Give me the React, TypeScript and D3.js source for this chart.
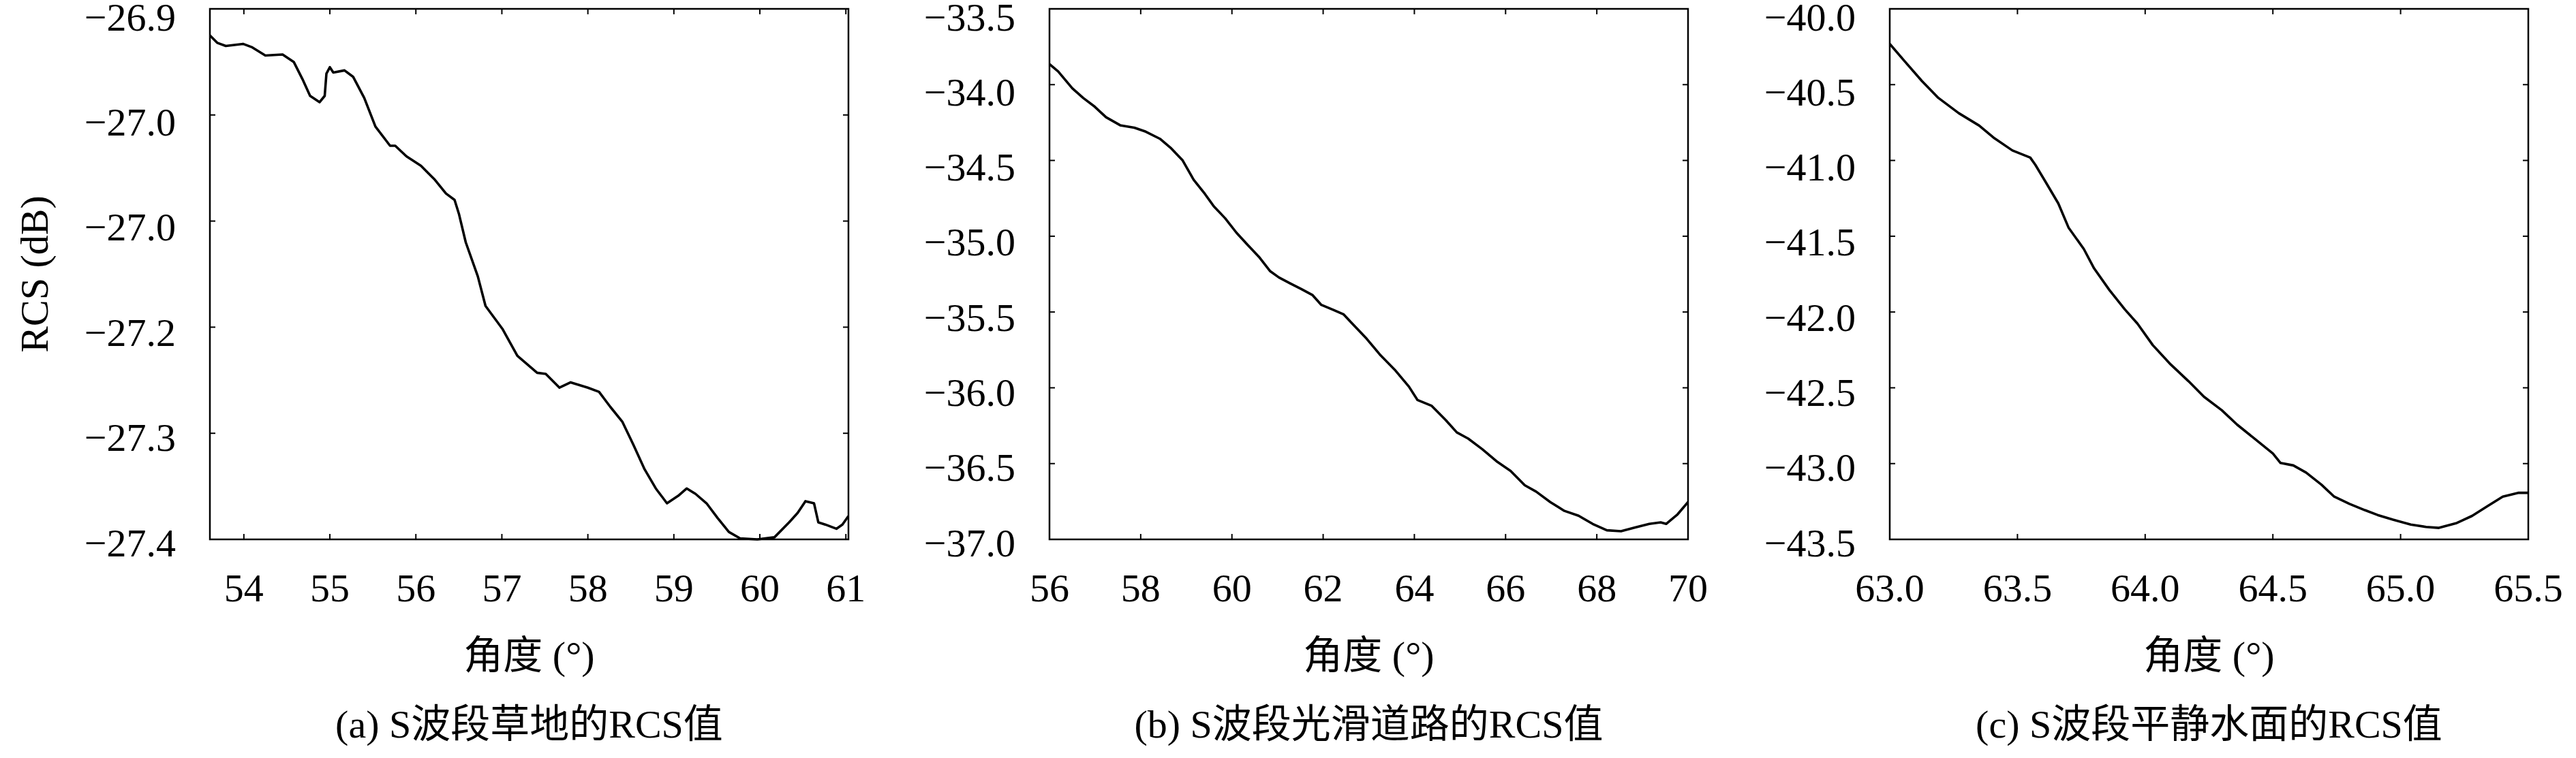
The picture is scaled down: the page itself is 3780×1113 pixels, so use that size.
import React from "react";
import * as d3 from "d3";

// ---- Panel (a): grass ----
const grassAngle = [53.605, 53.69, 53.79, 53.99, 54.09, 54.25, 54.45, 54.58, 54.68, 54.77, 54.88, 54.94, 54.96, 55.0, 55.04, 55.17, 55.27, 55.4, 55.53, 55.7, 55.76, 55.89, 56.06, 56.22, 56.35, 56.45, 56.5, 56.58, 56.72, 56.81, 57.01, 57.18, 57.41, 57.51, 57.67, 57.8, 58.0, 58.13, 58.26, 58.4, 58.53, 58.66, 58.79, 58.92, 59.05, 59.15, 59.25, 59.38, 59.51, 59.64, 59.77, 59.97, 60.17, 60.34, 60.44, 60.53, 60.63, 60.68, 60.76, 60.89, 60.96, 61.03];
const grassRcs = [-26.925, -26.932, -26.935, -26.933, -26.936, -26.944, -26.943, -26.95, -26.966, -26.982, -26.988, -26.982, -26.961, -26.955, -26.96, -26.958, -26.964, -26.984, -27.011, -27.029, -27.029, -27.039, -27.048, -27.061, -27.074, -27.08, -27.093, -27.12, -27.152, -27.18, -27.202, -27.227, -27.243, -27.244, -27.257, -27.252, -27.257, -27.261, -27.275, -27.289, -27.311, -27.334, -27.352, -27.366, -27.359, -27.352, -27.357, -27.366, -27.38, -27.393, -27.399, -27.4, -27.398, -27.384, -27.375, -27.364, -27.366, -27.384, -27.386, -27.39, -27.386, -27.378];
const grassXTicks = [54, 55, 56, 57, 58, 59, 60, 61];
const grassYTicks = [-26.9, -27.0, -27.1, -27.2, -27.3, -27.4];
const grassYLabels = ["\u221226.9", "\u221227.0", "\u221227.0", "\u221227.2", "\u221227.3", "\u221227.4"];

// ---- Panel (b): smooth road ----
const roadAngle = [56.0, 56.19, 56.5, 56.74, 56.99, 57.24, 57.55, 57.86, 58.11, 58.42, 58.67, 58.92, 59.16, 59.41, 59.6, 59.85, 60.1, 60.34, 60.59, 60.84, 61.03, 61.27, 61.52, 61.77, 61.96, 62.21, 62.45, 62.7, 62.95, 63.26, 63.57, 63.88, 64.07, 64.38, 64.69, 64.93, 65.18, 65.49, 65.8, 66.11, 66.42, 66.67, 66.98, 67.29, 67.6, 67.91, 68.22, 68.53, 68.84, 69.15, 69.4, 69.52, 69.77, 70.0];
const roadRcs = [-33.865, -33.913, -34.024, -34.088, -34.145, -34.215, -34.268, -34.284, -34.31, -34.357, -34.421, -34.5, -34.627, -34.722, -34.802, -34.881, -34.977, -35.056, -35.135, -35.231, -35.272, -35.31, -35.348, -35.389, -35.453, -35.484, -35.516, -35.596, -35.675, -35.786, -35.881, -35.992, -36.081, -36.119, -36.214, -36.294, -36.335, -36.405, -36.484, -36.548, -36.643, -36.685, -36.754, -36.812, -36.844, -36.898, -36.94, -36.946, -36.921, -36.898, -36.888, -36.898, -36.835, -36.754];
const roadXTicks = [56, 58, 60, 62, 64, 66, 68, 70];
const roadYTicks = [-33.5, -34.0, -34.5, -35.0, -35.5, -36.0, -36.5, -37.0];

// ---- Panel (c): calm water ----
const waterAngle = [63.0, 63.06, 63.126, 63.19, 63.27, 63.35, 63.41, 63.48, 63.55, 63.57, 63.61, 63.66, 63.7, 63.76, 63.8, 63.86, 63.92, 63.97, 64.03, 64.1, 64.17, 64.23, 64.3, 64.36, 64.43, 64.5, 64.53, 64.58, 64.63, 64.69, 64.74, 64.8, 64.86, 64.91, 64.97, 65.04, 65.1, 65.15, 65.22, 65.28, 65.34, 65.4, 65.46, 65.5];
const waterRcs = [-40.231, -40.349, -40.476, -40.587, -40.688, -40.77, -40.854, -40.934, -40.981, -41.029, -41.141, -41.284, -41.443, -41.585, -41.712, -41.855, -41.982, -42.077, -42.219, -42.346, -42.457, -42.559, -42.648, -42.743, -42.838, -42.933, -42.996, -43.012, -43.059, -43.139, -43.218, -43.266, -43.307, -43.339, -43.37, -43.402, -43.418, -43.424, -43.392, -43.345, -43.281, -43.218, -43.193, -43.193];
const waterXTicks = [63.0, 63.5, 64.0, 64.5, 65.0, 65.5];
const waterYTicks = [-40.0, -40.5, -41.0, -41.5, -42.0, -42.5, -43.0, -43.5];

const xLabel = "角度 (°)";
const yLabel = "RCS (dB)";
const captions = ["(a) S波段草地的RCS值", "(b) S波段光滑道路的RCS值", "(c) S波段平静水面的RCS值"];

const W = 3780;
const H = 1113;
const FONT = "'Liberation Serif', 'Noto Sans CJK SC', serif";
const FS = 58;

type PanelSpec = {
  left: number;
  xs: number[];
  ys: number[];
  xDomain: [number, number];
  yDomain: [number, number];
  xTicks: number[];
  xFmt: (v: number) => string;
  yTicks: number[];
  yLabels: string[];
  caption: string;
};

const fmtMinus = (s: string) => s.replace("-", "\u2212");

const panels: PanelSpec[] = [
  {
    left: 308,
    xs: grassAngle,
    ys: grassRcs,
    xDomain: [53.605, 61.03],
    yDomain: [-27.4, -26.9],
    xTicks: grassXTicks,
    xFmt: (v) => String(v),
    yTicks: grassYTicks,
    yLabels: grassYLabels,
    caption: captions[0],
  },
  {
    left: 1540,
    xs: roadAngle,
    ys: roadRcs,
    xDomain: [56, 70],
    yDomain: [-37, -33.5],
    xTicks: roadXTicks,
    xFmt: (v) => String(v),
    yTicks: roadYTicks,
    yLabels: roadYTicks.map((v) => fmtMinus(v.toFixed(1))),
    caption: captions[1],
  },
  {
    left: 2773,
    xs: waterAngle,
    ys: waterRcs,
    xDomain: [63, 65.5],
    yDomain: [-43.5, -40],
    xTicks: waterXTicks,
    xFmt: (v) => v.toFixed(1),
    yTicks: waterYTicks,
    yLabels: waterYTicks.map((v) => fmtMinus(v.toFixed(1))),
    caption: captions[2],
  },
];

const PW = 937;
const TOP = 13;
const PH = 779;
const TICK = 8;

function Panel({ p }: { p: PanelSpec }) {
  const x = d3.scaleLinear().domain(p.xDomain).range([p.left, p.left + PW]);
  const y = d3.scaleLinear().domain(p.yDomain).range([TOP + PH, TOP]);
  const pts: [number, number][] = p.xs.map((v, i) => [v, p.ys[i]]);
  const line = d3
    .line<[number, number]>()
    .x((d) => x(d[0]))
    .y((d) => y(d[1]))
    .curve(d3.curveLinear);
  const cx = p.left + PW / 2;
  // label offset: labels sit slightly lower at top than at bottom (as in reference)
  const labelY = (t: number) => {
    const yy = y(t);
    const frac = (yy - TOP) / PH;
    return yy + 12 - 7 * frac;
  };
  return (
    <g>
      <defs>
        <clipPath id={`clip-${p.left}`}>
          <rect x={p.left} y={TOP - 2} width={PW} height={PH + 4} />
        </clipPath>
      </defs>
      <path
        d={line(pts) || ""}
        fill="none"
        stroke="#000"
        strokeWidth={3.6}
        strokeLinejoin="round"
        clipPath={`url(#clip-${p.left})`}
      />
      {p.xTicks.map((t) => (
        <g key={"xt" + t}>
          <line x1={x(t)} x2={x(t)} y1={TOP + PH} y2={TOP + PH - TICK} stroke="#000" strokeWidth={2} />
          <line x1={x(t)} x2={x(t)} y1={TOP} y2={TOP + TICK} stroke="#000" strokeWidth={2} />
          <text x={x(t)} y={883} textAnchor="middle" fontFamily={FONT} fontSize={FS} fill="#000">
            {p.xFmt(t)}
          </text>
        </g>
      ))}
      {p.yTicks.map((t, i) => (
        <g key={"yt" + i}>
          <line x1={p.left} x2={p.left + TICK} y1={y(t)} y2={y(t)} stroke="#000" strokeWidth={2} />
          <line x1={p.left + PW} x2={p.left + PW - TICK} y1={y(t)} y2={y(t)} stroke="#000" strokeWidth={2} />
          <text
            x={p.left - 50}
            y={labelY(t)}
            textAnchor="end"
            dominantBaseline="central"
            fontFamily={FONT}
            fontSize={FS}
            fill="#000"
          >
            {p.yLabels[i]}
          </text>
        </g>
      ))}
      <rect x={p.left} y={TOP} width={PW} height={PH} fill="none" stroke="#000" strokeWidth={2.5} />
      <text x={cx} y={962} textAnchor="middle" dominantBaseline="central" fontFamily={FONT} fontSize={FS} fill="#000">
        {xLabel}
      </text>
      <text x={cx} y={1063} textAnchor="middle" dominantBaseline="central" fontFamily={FONT} fontSize={FS} fill="#000">
        {p.caption}
      </text>
    </g>
  );
}

export default function App() {
  return (
    <svg
      width={W}
      height={H}
      viewBox={`0 0 ${W} ${H}`}
      style={{ position: "absolute", left: 0, top: 0, background: "#fff" }}
    >
      <rect x={0} y={0} width={W} height={H} fill="#fff" />
      {panels.map((p) => (
        <Panel key={p.left} p={p} />
      ))}
      <text
        transform={`translate(50, ${TOP + PH / 2}) rotate(-90)`}
        textAnchor="middle"
        dominantBaseline="central"
        fontFamily={FONT}
        fontSize={FS}
        fill="#000"
      >
        {yLabel}
      </text>
    </svg>
  );
}
